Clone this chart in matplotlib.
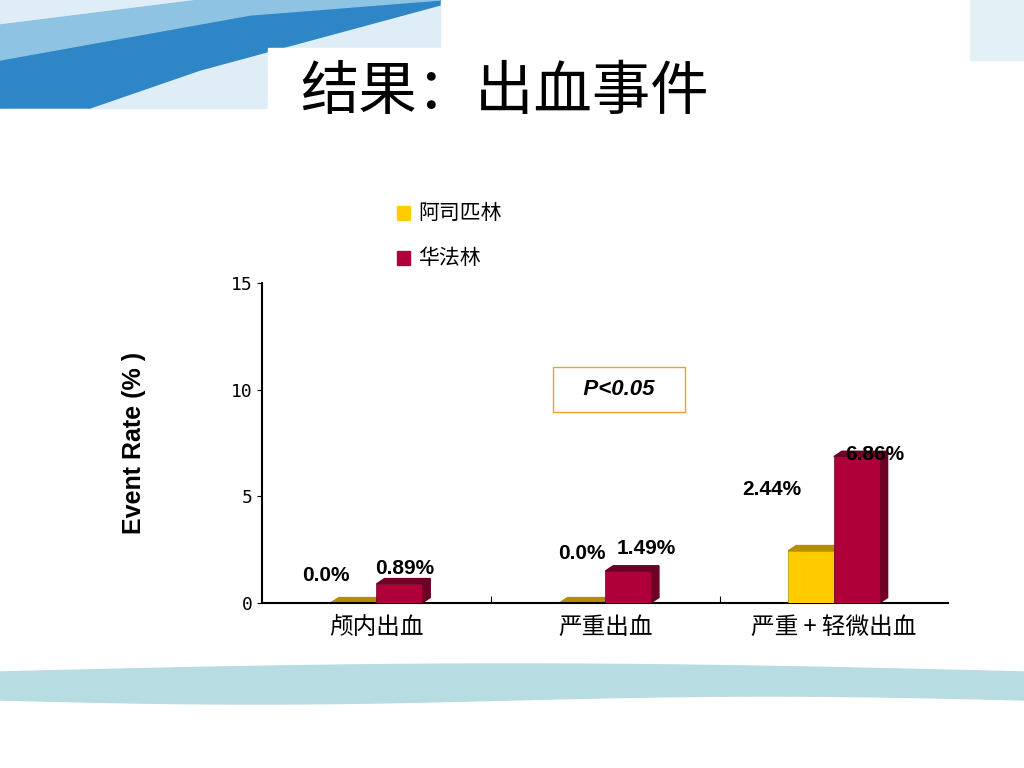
import matplotlib
matplotlib.use("Agg")
import matplotlib.pyplot as plt
from matplotlib.patches import Polygon, Rectangle
import numpy as np

plt.rcParams['font.family'] = ['Noto Sans CJK SC', 'DejaVu Sans']

categories = ["颅内出血", "严重出血", "严重 + 轻微出血"]
aspirin = [0.0, 0.0, 2.44]
warfarin = [0.89, 1.49, 6.86]
aspirin_labels = ["0.0%", "0.0%", "2.44%"]
warfarin_labels = ["0.89%", "1.49%", "6.86%"]
series_names = ["阿司匹林", "华法林"]
yticks = [0, 5, 10, 15]

fig = plt.figure(figsize=(10.24, 7.68), dpi=100)
fig.patch.set_facecolor("white")

# decorations
bg = fig.add_axes([0, 0, 1, 1], zorder=-1)
bg.set_xlim(0, 1024); bg.set_ylim(768, 0); bg.axis("off")
bg.add_patch(Rectangle((0, 0), 440, 108, color="#dfeef6"))
bg.add_patch(Polygon([(0, 60), (0, 108), (90, 108), (200, 70), (440, 5), (440, 0), (300, 0)], color="#2f86c6"))
bg.add_patch(Polygon([(0, 25), (0, 60), (250, 15), (440, 0), (200, 0)], color="#8fc3e4"))
bg.add_patch(Rectangle((268, 48), 180, 70, color="white"))
bg.add_patch(Rectangle((970, 0), 54, 60, color="#e3f0f6"))
xs = np.linspace(0, 1024, 200)
top = 672 - 8 * np.sin(xs / 1024 * np.pi)
bot = 700 + 4 * np.sin(xs / 1024 * np.pi * 2)
bg.fill_between(xs, top, bot, color="#b7dce2")
bg.text(505, 92, "结果：出血事件", fontsize=42, ha="center", va="center")

ax = fig.add_axes([0.256, 0.215, 0.670, 0.4165])
x = np.arange(len(categories))
w = 0.2
dx, dy = 0.035, 0.25
cols = [("#ffcc00", "#b38f00"), ("#b0003a", "#6d0024")]
for vals, off, (c, dc) in [(aspirin, -0.1, cols[0]), (warfarin, 0.1, cols[1])]:
    for xi, v in zip(x, vals):
        l, r = xi + off - w / 2, xi + off + w / 2
        ax.add_patch(Polygon([(r, 0), (r + dx, dy), (r + dx, v + dy), (r, v)], color=dc, zorder=2))
        ax.add_patch(Polygon([(l, v), (l + dx, v + dy), (r + dx, v + dy), (r, v)], color=dc, zorder=2))
        ax.add_patch(Rectangle((l, 0), w, v, facecolor=c, edgecolor=dc, lw=0.5, zorder=3))

aoff = [(-0.22, 1.3), (-0.10, 2.3), (-0.27, 2.9)]
woff = [(0.125, 0.7), (0.18, 1.05), (0.18, 0.12)]
lab_font = ["Liberation Sans", "DejaVu Sans"]
for xi, v, t, (ox, oy) in zip(x, aspirin, aspirin_labels, aoff):
    ax.text(xi + ox, v + oy, t, fontsize=15, fontweight="bold", ha="center", va="center", zorder=5, family=lab_font)
for xi, v, t, (ox, oy) in zip(x, warfarin, warfarin_labels, woff):
    ax.text(xi + ox, v + oy, t, fontsize=15, fontweight="bold", ha="center", va="center", zorder=5, family=lab_font)

ax.set_xlim(-0.5, 2.5)
ax.set_ylim(0, 15)
ax.set_yticks(yticks)
ax.set_yticklabels([str(t) for t in yticks], family="DejaVu Sans Mono", fontsize=13)
ax.set_xticks([0.5, 1.5])
ax.set_xticklabels([])
ax.tick_params(axis="x", length=5, direction="in")
for xi, c in zip(x, categories):
    ax.text(xi, -0.6, c, ha="center", va="top", fontsize=17)
ax.spines["top"].set_visible(False)
ax.spines["right"].set_visible(False)
ax.spines["left"].set_linewidth(1.5)
ax.spines["bottom"].set_linewidth(1.5)
ax.set_ylabel("Event Rate (% )", fontsize=18, fontweight="bold", family=lab_font, labelpad=85)
ax.yaxis.set_label_coords(-0.17, 0.5)
ax.set_facecolor("none")

ax.text(1.06, 10, "   P<0.05   ", fontsize=16, fontweight="bold", style="italic", ha="center", va="center",
        family=lab_font, bbox=dict(boxstyle="square,pad=0.55", fc="white", ec="#f0a030"))
ax.set_zorder(1)

# legend
for (c, _), name, yy in zip(cols, series_names, [213, 258]):
    bg.add_patch(Rectangle((397, yy - 7), 13, 14, color=c))
    bg.text(418, yy, name, fontsize=15, va="center")

fig.savefig("out.png", dpi=100)
